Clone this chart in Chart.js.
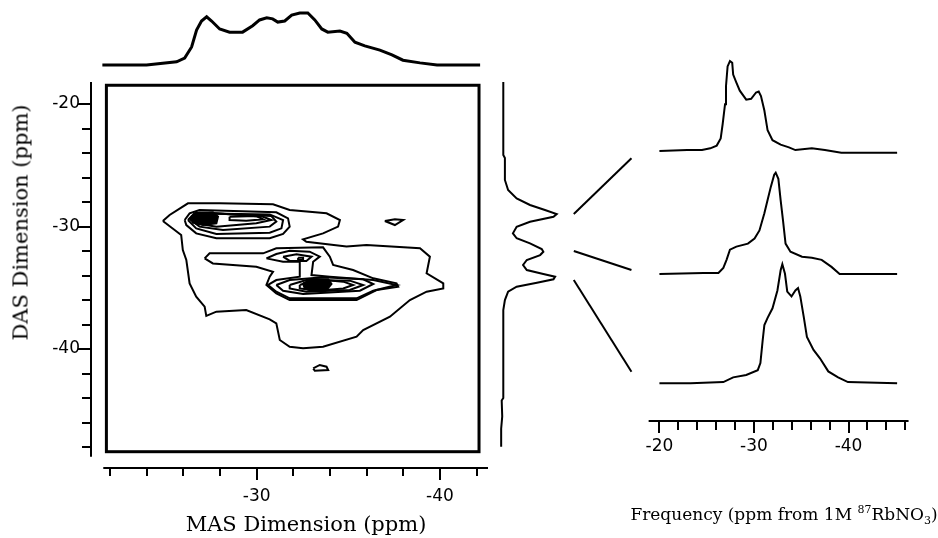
<!DOCTYPE html>
<html><head><meta charset="utf-8">
<script src="https://cdn.jsdelivr.net/npm/chart.js@4.4.1/dist/chart.umd.min.js"></script>
<style>
html,body{margin:0;padding:0;background:#fff;}
#wrap{position:relative;width:938px;height:538px;overflow:hidden;background:#fff;}
canvas{position:absolute;}
.t{position:absolute;font-family:'DejaVu Serif',serif;color:#000;white-space:nowrap;text-align:center;}
.t sup,.t sub{font-size:11px;line-height:0;}
</style></head><body>
<div id="wrap">
<canvas id="cMain" width="500" height="538" style="left:0;top:0"></canvas>
<canvas id="cTop" width="500" height="80" style="left:0;top:0"></canvas>
<canvas id="cSide" width="170" height="538" style="left:480px;top:0"></canvas>
<canvas id="cSlice" width="308" height="538" style="left:630px;top:0"></canvas>
<div class="t" id="tMas" style="left:106px;top:514px;width:400px;font-size:21px;line-height:21px;">MAS Dimension (ppm)</div>
<div class="t" id="tDas" style="left:-129px;top:212px;width:300px;font-size:21px;line-height:21px;transform:rotate(-90deg);transform-origin:150px 10.5px;">DAS Dimension (ppm)</div>
<div class="t" id="tFreq" style="left:584px;top:506px;width:400px;font-size:17px;line-height:17px;">Frequency (ppm from 1M <sup>87</sup>RbNO<sub>3</sub>)</div>
</div>
<script>
// ===================== DATA =====================
// tick values (ppm)
const masTicks  = [-22,-24,-26,-28,-30,-32,-34,-36,-38,-40,-42];
const dasTicks  = [-20,-22,-24,-26,-28,-30,-32,-34,-36,-38,-40,-42,-44,-46,-48];
const freqTicks = [-20,-22,-24,-26,-28,-30,-32,-34,-36,-38,-40,-42,-44,-46];
const labelledTicks = [-20,-30,-40];

// MAS projection (top trace): ppm and relative intensity
const projMasPPM = [-21.58,-23.99,-25.63,-26.07,-26.45,-26.72,-26.99,-27.27,-27.54,-27.98,-28.52,-29.23,-29.78,-30.16,-30.55,-30.87,-31.15,-31.53,-31.91,-32.35,-32.79,-33.17,-33.55,-33.88,-34.54,-34.92,-35.36,-35.90,-36.72,-37.38,-37.98,-38.91,-39.84,-42.19];
const projMasInt = [0,0,0.06,0.13,0.34,0.66,0.83,0.91,0.83,0.68,0.62,0.62,0.74,0.85,0.89,0.87,0.81,0.83,0.94,0.98,0.98,0.85,0.68,0.62,0.64,0.60,0.43,0.36,0.28,0.19,0.09,0.04,0,0];

// DAS projection (vertical trace): ppm and relative intensity
const projDasPPM = [-18.18,-24.16,-24.41,-26.20,-27.02,-27.70,-28.24,-28.65,-28.98,-29.20,-29.61,-30.02,-30.56,-30.96,-31.37,-31.84,-32.06,-32.33,-32.73,-33.14,-33.55,-33.88,-34.10,-34.31,-34.59,-34.91,-35.32,-36.00,-36.82,-44.00,-44.20,-45.50,-46.50,-47.98];
const projDasInt = [0,0,0.03,0.03,0.09,0.25,0.50,0.78,1.0,0.94,0.50,0.25,0.18,0.25,0.50,0.72,0.75,0.69,0.44,0.37,0.44,0.75,0.97,0.94,0.63,0.25,0.09,0.03,0,0,-0.03,-0.02,-0.04,-0.04];

// slice links: DAS position on the projection -> slice
const linkFromDAS = [-28.98,-32.00,-34.37];
const linkToDAS   = [-24.43,-33.55,-41.85];
const linkFromX = 1.32, linkToX = 2.40;

// slices (frequency ppm, relative intensity)
const sliceTopPPM = [-20.00,-22.94,-24.50,-25.38,-26.06,-26.48,-26.69,-26.94,-27.04,-27.21,-27.46,-27.70,-27.80,-28.14,-28.50,-29.18,-29.70,-30.22,-30.50,-30.74,-31.10,-31.44,-31.96,-32.82,-33.70,-34.38,-36.12,-37.50,-39.24,-45.14];
const sliceTopInt = [0,0.01,0.01,0.03,0.06,0.14,0.30,0.52,0.72,0.94,1.0,0.98,0.85,0.76,0.67,0.57,0.58,0.65,0.66,0.61,0.45,0.23,0.12,0.07,0.04,0.01,0.03,0.01,-0.02,-0.02];
const sliceMidPPM = [-20.00,-24.68,-26.24,-26.76,-27.10,-27.46,-28.14,-29.36,-30.06,-30.58,-31.10,-31.44,-31.78,-32.14,-32.30,-32.58,-32.82,-33.07,-33.34,-33.86,-35.08,-36.12,-37.16,-38.20,-39.06,-45.14];
const sliceMidInt = [0,0.01,0.01,0.06,0.14,0.24,0.27,0.30,0.35,0.43,0.60,0.73,0.86,0.98,1.0,0.94,0.73,0.53,0.30,0.22,0.17,0.16,0.14,0.07,0,0];
const sliceLowPPM = [-20.00,-23.30,-26.76,-27.80,-29.18,-30.40,-30.68,-30.92,-31.10,-31.44,-31.96,-32.48,-32.82,-33.00,-33.28,-33.52,-33.97,-34.38,-34.66,-34.90,-35.26,-35.60,-36.30,-36.98,-37.86,-38.90,-39.94,-45.14];
const sliceLowInt = [0,0,0.01,0.05,0.07,0.11,0.17,0.36,0.49,0.55,0.63,0.78,0.95,1.0,0.92,0.77,0.73,0.78,0.80,0.73,0.56,0.39,0.28,0.21,0.10,0.05,0.01,0];

// contours: [MAS ppm, DAS ppm]
const contourL1 = [[-24.88,-29.55],[-25.25,-29.06],[-26.25,-28.11],[-27.98,-28.11],[-30.89,-28.19],[-31.80,-28.65],[-33.81,-28.92],[-34.54,-29.47],[-34.44,-30.01],[-33.62,-30.56],[-32.53,-31.05],[-32.71,-31.24],[-34.90,-31.64],[-35.99,-31.51],[-38.91,-31.78],[-39.45,-32.46],[-39.27,-33.82],[-40.18,-34.64],[-40.18,-35.05],[-39.27,-35.32],[-38.36,-36.00],[-37.27,-37.36],[-35.81,-38.45],[-35.45,-38.99],[-33.62,-39.81],[-32.53,-39.94],[-31.80,-39.81],[-31.26,-39.26],[-31.07,-37.90],[-30.71,-37.58],[-29.43,-36.81],[-27.80,-36.95],[-27.25,-37.30],[-27.16,-36.54],[-26.70,-35.73],[-26.34,-34.64],[-26.16,-32.73],[-25.97,-31.92],[-25.88,-30.69]];
const contourL2 = [[-27.16,-32.60],[-27.43,-32.19],[-30.35,-32.19],[-31.07,-31.78],[-33.62,-31.70],[-33.99,-32.46],[-34.17,-33.14],[-35.26,-33.55],[-36.36,-34.23],[-37.63,-34.64],[-37.72,-34.91],[-36.54,-35.18],[-35.45,-36.00],[-31.80,-36.00],[-31.07,-35.45],[-30.53,-34.77],[-30.71,-34.09],[-30.89,-33.69],[-29.98,-33.28],[-27.61,-33.01]];
const contourL3 = [[-30.53,-32.60],[-31.07,-32.24],[-31.80,-31.97],[-32.89,-32.05],[-33.44,-32.46],[-33.08,-32.87],[-32.99,-33.96],[-33.99,-34.09],[-36.36,-34.37],[-37.63,-34.77],[-36.36,-35.24],[-35.45,-35.86],[-31.80,-35.86],[-31.07,-35.32],[-30.62,-34.77],[-31.07,-34.37],[-32.35,-34.09],[-32.35,-32.87],[-31.44,-32.87]];
const contourMid4 = [[-31.44,-32.46],[-32.17,-32.27],[-32.99,-32.46],[-32.71,-32.81],[-31.80,-32.81]];
const contourMid5 = [[-32.26,-32.54],[-32.53,-32.54],[-32.53,-32.73],[-32.26,-32.73]];
const contourLow4 = [[-31.07,-34.77],[-31.80,-34.37],[-33.62,-34.15],[-35.81,-34.31],[-36.36,-34.69],[-35.63,-35.24],[-32.53,-35.51],[-31.44,-35.24]];
const contourLow5 = [[-31.80,-34.77],[-32.71,-34.37],[-35.08,-34.42],[-35.81,-34.77],[-35.08,-35.18],[-32.71,-35.32],[-31.80,-35.05]];
const contourLow6 = [[-32.35,-34.77],[-33.26,-34.31],[-34.72,-34.50],[-35.26,-34.77],[-34.72,-35.05],[-33.26,-35.24],[-32.35,-35.05]];
const contourLowCore = [[-32.53,-34.64],[-32.99,-34.31],[-33.90,-34.31],[-34.08,-34.69],[-33.81,-35.18],[-32.99,-35.24],[-32.62,-35.05]];
const contourTop2 = [[-26.07,-29.47],[-26.34,-28.92],[-26.88,-28.65],[-31.07,-28.84],[-31.71,-29.33],[-31.80,-30.01],[-31.44,-30.61],[-30.71,-30.96],[-27.80,-30.96],[-26.70,-30.56],[-26.16,-29.88]];
const contourTop3 = [[-26.25,-29.47],[-26.61,-28.92],[-30.71,-29.01],[-31.44,-29.47],[-31.35,-30.15],[-30.71,-30.50],[-27.80,-30.61],[-26.70,-30.15]];
const contourTop4 = [[-26.34,-29.41],[-26.70,-28.87],[-30.80,-29.14],[-31.07,-29.60],[-30.71,-30.01],[-28.16,-30.28],[-26.88,-30.01]];
const contourTop5 = [[-26.52,-29.33],[-26.88,-28.87],[-27.80,-28.92],[-30.35,-29.20],[-30.80,-29.47],[-29.98,-29.74],[-27.80,-30.01],[-26.70,-29.74]];
const contourTop6 = [[-28.52,-29.20],[-29.98,-29.14],[-30.35,-29.41],[-29.43,-29.52],[-28.52,-29.47]];
const contourTopCore = [[-26.43,-29.20],[-26.70,-28.87],[-27.61,-28.84],[-27.89,-29.20],[-27.80,-29.74],[-27.07,-29.88],[-26.52,-29.69]];
const contourIsland1 = [[-36.99,-29.55],[-37.54,-29.41],[-37.99,-29.47],[-37.54,-29.88]];
const contourIsland2 = [[-33.08,-41.58],[-33.44,-41.30],[-33.81,-41.44],[-33.90,-41.71],[-33.17,-41.77]];

// ===================== DRAWING =====================
Chart.defaults.font.family = "'DejaVu Sans', 'Liberation Sans', Arial, sans-serif";
Chart.defaults.color = '#000';
const BLACK = '#000';
const pts = (xs, ys, f) => xs.map((x, i) => ({x: x, y: f ? f(ys[i]) : ys[i]}));
const loop = arr => arr.concat([arr[0]]).map(p => ({x: p[0], y: p[1]}));
const lineDs = (data, w, extra) => Object.assign({data, showLine: true, borderColor: BLACK, borderWidth: w, pointRadius: 0, tension: 0, fill: false}, extra || {});
const base = {responsive: false, animation: false, devicePixelRatio: 1, events: [],
  plugins: {legend: {display: false}, tooltip: {enabled: false}}};
const tickLabel = v => labelledTicks.includes(v) ? String(v) : '';

// detached axis lines + tick marks + frame
function axesPlugin(spec) {
  return {id: 'detachedAxes', afterDraw(chart) {
    const ctx = chart.ctx, ca = chart.chartArea;
    ctx.save(); ctx.strokeStyle = BLACK; ctx.lineCap = 'butt';
    if (spec.x) {
      const s = chart.scales.x, y0 = ca.bottom;
      ctx.lineWidth = 2; ctx.beginPath();
      ctx.moveTo(s.getPixelForValue(spec.x.from), y0); ctx.lineTo(s.getPixelForValue(spec.x.to), y0); ctx.stroke();
      s.ticks.forEach(t => { const p = Math.round(s.getPixelForValue(t.value));
        const L = labelledTicks.includes(t.value) ? spec.x.major : spec.x.minor;
        ctx.beginPath(); ctx.moveTo(p, y0); ctx.lineTo(p, y0 + L); ctx.stroke(); });
    }
    if (spec.y) {
      const s = chart.scales.y, x0 = ca.left;
      ctx.lineWidth = 2; ctx.beginPath();
      ctx.moveTo(x0, s.getPixelForValue(spec.y.from)); ctx.lineTo(x0, s.getPixelForValue(spec.y.to)); ctx.stroke();
      s.ticks.forEach(t => { const p = Math.round(s.getPixelForValue(t.value));
        const L = labelledTicks.includes(t.value) ? spec.y.major : spec.y.minor;
        ctx.beginPath(); ctx.moveTo(x0, p); ctx.lineTo(x0 - L, p); ctx.stroke(); });
    }
    if (spec.frame) {
      const sx = chart.scales.x, sy = chart.scales.y, f = spec.frame;
      const x1 = sx.getPixelForValue(f.x[0]), x2 = sx.getPixelForValue(f.x[1]);
      const y1 = sy.getPixelForValue(f.y[0]), y2 = sy.getPixelForValue(f.y[1]);
      ctx.lineWidth = 3; ctx.strokeRect(x1, y1, x2 - x1, y2 - y1);
    }
    ctx.restore();
  }};
}

// ---- main contour plot ----
const contours = [
  {d: contourL1}, {d: contourL2}, {d: contourL3}, {d: contourMid4}, {d: contourMid5},
  {d: contourLow4}, {d: contourLow5}, {d: contourLow6}, {d: contourLowCore, fill: true},
  {d: contourTop2}, {d: contourTop3}, {d: contourTop4}, {d: contourTop5}, {d: contourTop6},
  {d: contourTopCore, fill: true}, {d: contourIsland1}, {d: contourIsland2}
];
new Chart(document.getElementById('cMain'), {
  type: 'scatter',
  data: {datasets: contours.map(c => lineDs(loop(c.d), 2, c.fill ? {fill: 'shape', backgroundColor: BLACK} : {}))},
  options: Object.assign({}, base, {
    layout: {padding: {left: 0, right: 12, top: 82, bottom: 0}},
    scales: {
      x: {type: 'linear', reverse: true, min: -42.62, max: -20.96,
        border: {display: false}, grid: {display: false, drawTicks: false},
        afterBuildTicks: s => { s.ticks = masTicks.map(v => ({value: v})); },
        afterFit: s => { s.height = 70; },
        ticks: {autoSkip: false, maxRotation: 0, padding: 18, font: {size: 17}, callback: tickLabel}},
      y: {type: 'linear', min: -49.71, max: -18.204,
        border: {display: false}, grid: {display: false, drawTicks: false},
        afterBuildTicks: s => { s.ticks = dasTicks.map(v => ({value: v})); },
        afterFit: s => { s.width = 91; },
        ticks: {autoSkip: false, padding: 11, font: {size: 17}, callback: tickLabel}}
    }
  }),
  plugins: [axesPlugin({
    x: {from: -21.63, to: -42.62, major: 12, minor: 8},
    y: {from: -18.2, to: -48.8, major: 13, minor: 9},
    frame: {x: [-21.8, -42.13], y: [-18.47, -48.38]}
  })]
});

// ---- MAS projection (top) ----
new Chart(document.getElementById('cTop'), {
  type: 'scatter',
  data: {datasets: [lineDs(pts(projMasPPM, projMasInt), 3)]},
  options: Object.assign({}, base, {
    layout: {padding: {left: 91, right: 12, top: 5, bottom: 5}},
    scales: {x: {display: false, type: 'linear', reverse: true, min: -42.62, max: -20.96},
             y: {display: false, type: 'linear', min: -0.189, max: 1.132}}
  })
});

// ---- DAS projection (right of contour plot) + links ----
const sideSets = [lineDs(pts(projDasInt, projDasPPM), 2)];
linkFromDAS.forEach((d, i) => sideSets.push(lineDs([{x: linkFromX, y: d}, {x: linkToX, y: linkToDAS[i]}], 2)));
new Chart(document.getElementById('cSide'), {
  type: 'scatter',
  data: {datasets: sideSets},
  options: Object.assign({}, base, {
    layout: {padding: {left: 10, right: 10, top: 82, bottom: 70}},
    scales: {x: {display: false, type: 'linear', min: -0.249, max: 2.56},
             y: {display: false, type: 'linear', min: -49.71, max: -18.204}}
  })
});

// ---- slices ----
const sliceOffset = [27.0, 14.7, 3.77];
const sliceHeight = [9.0, 10.13, 11.9];
const slices = [[sliceTopPPM, sliceTopInt], [sliceMidPPM, sliceMidInt], [sliceLowPPM, sliceLowInt]];
new Chart(document.getElementById('cSlice'), {
  type: 'scatter',
  data: {datasets: slices.map((s, i) => lineDs(pts(s[0], s[1], v => sliceOffset[i] + sliceHeight[i] * v), 2))},
  options: Object.assign({}, base, {
    layout: {padding: {left: 10, right: 18, top: 40, bottom: 0}},
    scales: {
      x: {type: 'linear', reverse: true, min: -47.56, max: -18.44,
        border: {display: false}, grid: {display: false, drawTicks: false},
        afterBuildTicks: s => { s.ticks = freqTicks.map(v => ({value: v})); },
        afterFit: s => { s.height = 117; },
        ticks: {autoSkip: false, maxRotation: 0, padding: 15, font: {size: 17}, callback: tickLabel}},
      y: {display: false, type: 'linear', min: 0, max: 38.1}
    }
  }),
  plugins: [axesPlugin({x: {from: -18.86, to: -46.35, major: 12, minor: 9}})]
});
</script>
</body></html>
